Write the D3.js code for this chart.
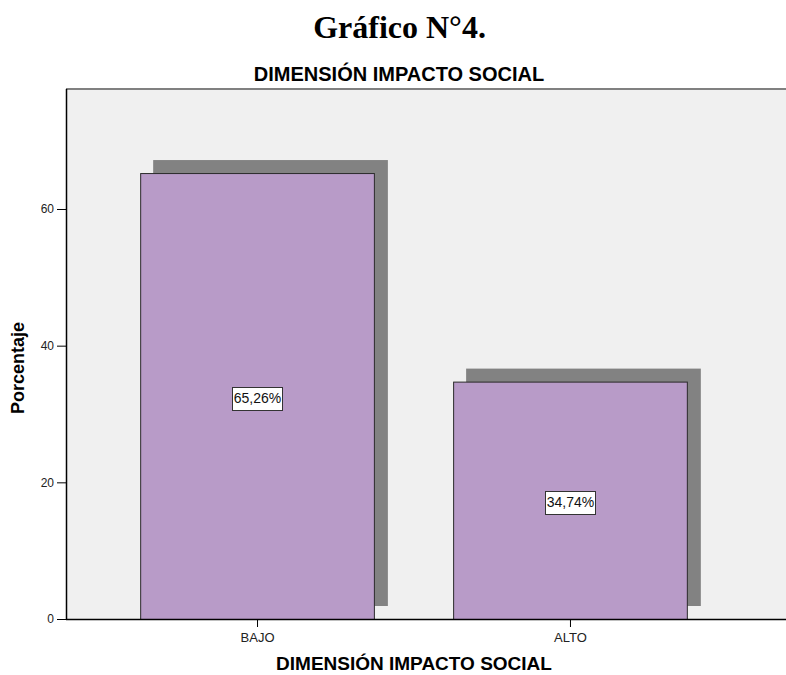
<!DOCTYPE html>
<html>
<head>
<meta charset="utf-8">
<script src="https://cdn.jsdelivr.net/npm/d3@7"></script>
<style>
  html, body { margin: 0; padding: 0; background: #ffffff; }
  svg { display: block; }
</style>
</head>
<body>
<svg id="chart" width="786" height="675"></svg>
<script>
// Data: percentage of cases per level of the social-impact dimension
const categories = ["BAJO", "ALTO"];
const percentages = [65.26, 34.74];
const yTicks = [0, 20, 40, 60];

const svg = d3.select("#chart");

const plot = { left: 66, right: 786, top: 89, bottom: 619 };

const y = d3.scaleLinear().domain([0, 77.56]).range([plot.bottom, plot.top]);
const x = d3.scaleBand().domain(categories).range([66, 762])
  .paddingInner(0.25).paddingOuter(0.237);

const sans = "'Liberation Sans', Arial, sans-serif";

// Main heading
svg.append("text")
  .attr("x", 399.5).attr("y", 38)
  .attr("text-anchor", "middle")
  .attr("font-family", "'Liberation Serif', 'Times New Roman', serif")
  .attr("font-weight", "bold").attr("font-size", 32)
  .attr("fill", "#000")
  .text("Gráfico N°4.");

// Chart title
svg.append("text")
  .attr("x", 399).attr("y", 81)
  .attr("text-anchor", "middle")
  .attr("font-family", sans).attr("font-weight", "bold").attr("font-size", 20)
  .attr("fill", "#000")
  .text("DIMENSIÓN IMPACTO SOCIAL");

// Plot background
svg.append("rect")
  .attr("x", plot.left).attr("y", plot.top)
  .attr("width", plot.right - plot.left).attr("height", plot.bottom - plot.top)
  .attr("fill", "#f0f0f0");

// Top frame line
svg.append("line")
  .attr("x1", plot.left).attr("x2", plot.right)
  .attr("y1", plot.top).attr("y2", plot.top)
  .attr("stroke", "#808080").attr("stroke-width", 2);

const shadowOffset = 13;
const bars = svg.append("g");

// Drop shadows behind the bars
bars.selectAll("rect.shadow")
  .data(categories)
  .join("rect")
  .attr("class", "shadow")
  .attr("x", (d) => x(d) + shadowOffset)
  .attr("y", (d, i) => y(percentages[i]) - shadowOffset)
  .attr("width", x.bandwidth())
  .attr("height", (d, i) => y(0) - y(percentages[i]))
  .attr("fill", "#828282");

// Bars
bars.selectAll("rect.bar")
  .data(categories)
  .join("rect")
  .attr("class", "bar")
  .attr("x", (d) => x(d) + 0.5)
  .attr("y", (d, i) => y(percentages[i]) + 0.5)
  .attr("width", x.bandwidth() - 1)
  .attr("height", (d, i) => y(0) - y(percentages[i]))
  .attr("fill", "#b89bc8")
  .attr("stroke", "#2a2a2a").attr("stroke-width", 1);

// Value labels in boxes
const fmt = (v) => v.toFixed(2).replace(".", ",") + "%";
const labels = svg.append("g");
categories.forEach((c, i) => {
  const cx = x(c) + x.bandwidth() / 2;
  const cy = (y(percentages[i]) + y(0)) / 2 + 2;
  const g = labels.append("g");
  const t = g.append("text")
    .attr("x", cx).attr("y", cy + 5)
    .attr("text-anchor", "middle")
    .attr("font-family", sans).attr("font-size", 14)
    .attr("fill", "#111")
    .text(fmt(percentages[i]));
  const bb = t.node().getBBox();
  g.insert("rect", "text")
    .attr("x", Math.round(bb.x) - 1.5).attr("y", Math.round(cy - 11) + 0.5)
    .attr("width", Math.round(bb.width) + 3).attr("height", 23)
    .attr("fill", "#ffffff").attr("stroke", "#333").attr("stroke-width", 1);
});

// Y axis
const yAxis = svg.append("g")
  .attr("transform", `translate(${plot.left},0)`)
  .call(d3.axisLeft(y).tickValues(yTicks).tickSize(9).tickPadding(3).tickFormat(d3.format("d")));
yAxis.select(".domain").attr("d", `M0.5,${plot.top}V${plot.bottom}`).attr("stroke", "#000").attr("stroke-width", 1.5);
yAxis.selectAll(".tick line").attr("stroke", "#000");
yAxis.selectAll(".tick text")
  .attr("font-family", sans).attr("font-size", 12).attr("fill", "#222");

// X axis
const xAxis = svg.append("g")
  .attr("transform", `translate(0,${plot.bottom})`)
  .call(d3.axisBottom(x).tickSize(8).tickPadding(6));
xAxis.select(".domain").attr("d", `M${plot.left},0.5H${plot.right}`).attr("stroke", "#000").attr("stroke-width", 1.5);
xAxis.selectAll(".tick line").attr("stroke", "#000");
xAxis.selectAll(".tick text")
  .attr("font-family", sans).attr("font-size", 13).attr("fill", "#222");

// Axis titles
svg.append("text")
  .attr("transform", "translate(24,368) rotate(-90)")
  .attr("text-anchor", "middle")
  .attr("font-family", sans).attr("font-weight", "bold").attr("font-size", 18)
  .attr("fill", "#000")
  .text("Porcentaje");

svg.append("text")
  .attr("x", 414).attr("y", 670)
  .attr("text-anchor", "middle")
  .attr("font-family", sans).attr("font-weight", "bold").attr("font-size", 19)
  .attr("fill", "#000")
  .text("DIMENSIÓN IMPACTO SOCIAL");
</script>
</body>
</html>
